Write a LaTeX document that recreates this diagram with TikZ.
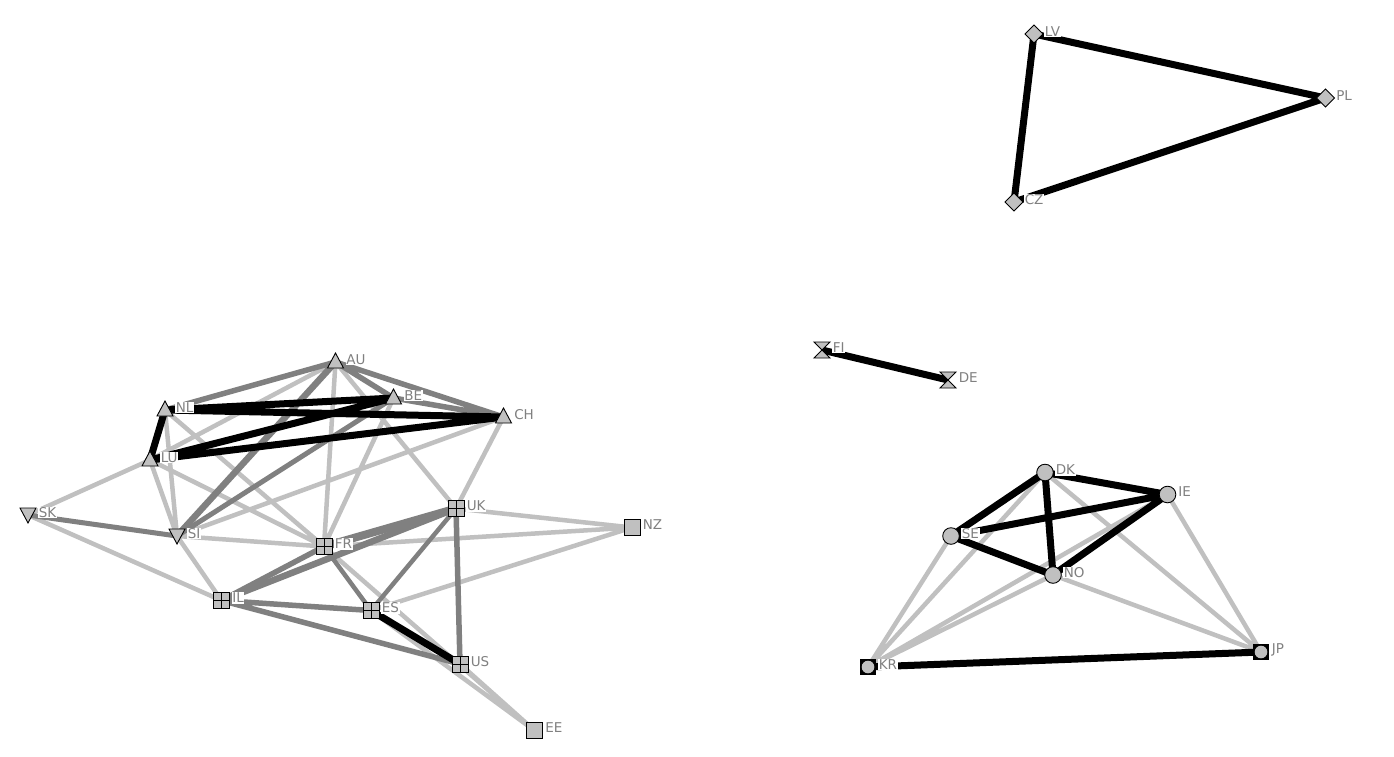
\documentclass[tikz,border=0pt]{standalone}
\usepackage{fontspec}
\setmainfont{DejaVu Sans}
\definecolor{lg}{RGB}{192,192,192}
\definecolor{mg}{RGB}{128,128,128}
\tikzset{
  blk/.style={line width=7pt, black},
  med/.style={line width=5.5pt, mg},
  lig/.style={line width=4.5pt, lg},
  shp/.style={fill=lg, draw=black, line width=0.9pt, line join=miter},
  lbl/.style={anchor=west, fill=white, inner sep=0.6pt, text=mg, font=\fontsize{13.5}{14}\selectfont},
  triup/.pic={\draw[shp] (-8,6)--(8,6)--(0,-9)--cycle;},
  tridown/.pic={\draw[shp] (-8,-7)--(8,-7)--(0,8)--cycle;},
  gridsq/.pic={\draw[shp] (-8,-8) rectangle (8,8); \draw[line width=0.9pt] (-8,0)--(8,0) (0,-8)--(0,8);},
  plainsq/.pic={\draw[shp] (-8,-8) rectangle (8,8);},
  dot/.pic={\draw[shp] (0,0) circle (8.3);},
  boxdot/.pic={\fill[black] (-8,-8) rectangle (8,8); \fill[lg] (0,0) circle (6.3);},
  diam/.pic={\draw[shp] (-9,0)--(0,-9)--(9,0)--(0,9)--cycle;},
  hglass/.pic={\draw[shp] (-8,-8)--(8,-8)--(-8,8)--(8,8)--cycle;},
}
\begin{document}
\begin{tikzpicture}[x=1pt,y=-1pt]
\useasboundingbox (0,0) rectangle (1394,756);
\fill[white] (0,0) rectangle (1394,756);
% coordinates
\coordinate (AU) at (335.5,362);
\coordinate (BE) at (393.5,398);
\coordinate (CH) at (503.5,417);
\coordinate (NL) at (165,410);
\coordinate (LU) at (150,460);
\coordinate (SK) at (28,515);
\coordinate (SI) at (177,536);
\coordinate (IL) at (221.5,600.5);
\coordinate (FR) at (324,546.5);
\coordinate (UK) at (456,508.5);
\coordinate (NZ) at (632,527.5);
\coordinate (ES) at (371,610.5);
\coordinate (US) at (460,664);
\coordinate (EE) at (534.5,730.5);
\coordinate (DK) at (1045,472.5);
\coordinate (IE) at (1167.5,494.5);
\coordinate (SE) at (951,536);
\coordinate (NO) at (1053,575);
\coordinate (KR) at (868,667);
\coordinate (JP) at (1261,652);
\coordinate (LV) at (1034,34);
\coordinate (PL) at (1325.5,98);
\coordinate (CZ) at (1014,202);
\coordinate (FI) at (822,350);
\coordinate (DE) at (948,380);
% light edges
\draw[lig] (AU)--(LU) (AU)--(FR) (AU)--(UK) (BE)--(FR) (CH)--(SI) (CH)--(UK)
  (NL)--(SI) (NL)--(FR) (LU)--(SI) (LU)--(FR) (LU)--(SK) (SK)--(IL)
  (SI)--(FR) (SI)--(IL) (UK)--(NZ) (FR)--(NZ) (ES)--(NZ)
  (FR)--(EE) (ES)--(EE) (US)--(EE);
\draw[lig] (KR)--(SE) (KR)--(DK) (KR)--(NO) (KR)--(IE) (JP)--(DK) (JP)--(NO) (JP)--(IE);
% medium edges
\draw[med] (AU)--(NL) (AU)--(BE) (AU)--(CH) (BE)--(CH);
\draw[med, line width=6.5pt] (AU)--(SI);
\draw[med, line width=5pt] (BE)--(SI) (SK)--(SI);
\draw[med, line width=8pt] (FR)--(UK);
\draw[med, line width=6.5pt] (IL)--(UK);
\draw[med] (IL)--(FR) (IL)--(ES) (IL)--(US) (UK)--(US);
\draw[med, line width=4.5pt] (FR)--(ES) (UK)--(ES);
% black edges
\draw[blk] (NL)--(LU) (NL)--(BE) (NL)--(CH) (LU)--(BE) (LU)--(CH) (ES)--(US);
\draw[blk] (DK)--(SE) (DK)--(IE) (DK)--(NO) (SE)--(IE) (SE)--(NO) (NO)--(IE) (KR)--(JP);
\draw[blk] (LV)--(PL) (LV)--(CZ) (CZ)--(PL) (FI)--(DE);
% node shapes
\foreach \n in {AU,BE,CH,NL,LU} {\pic at (\n) {triup};}
\foreach \n in {SK,SI} {\pic at (\n) {tridown};}
\foreach \n in {FR,UK,IL,ES,US} {\pic at (\n) {gridsq};}
\foreach \n in {NZ,EE} {\pic at (\n) {plainsq};}
\foreach \n in {DK,IE,SE,NO} {\pic at (\n) {dot};}
\foreach \n in {KR,JP} {\pic at (\n) {boxdot};}
\foreach \n in {LV,PL,CZ} {\pic at (\n) {diam};}
\foreach \n in {FI,DE} {\pic at (\n) {hglass};}
% labels
\foreach \n in {AU,BE,CH,NL,LU,SK,SI,FR,UK,IL,ES,US,NZ,EE,DK,IE,SE,NO,KR,JP,LV,PL,CZ,FI,DE}
  {\node[lbl] (\n-lab) at ([xshift=10pt,yshift=2.5pt]\n) {\n};}
\end{tikzpicture}
\end{document}
